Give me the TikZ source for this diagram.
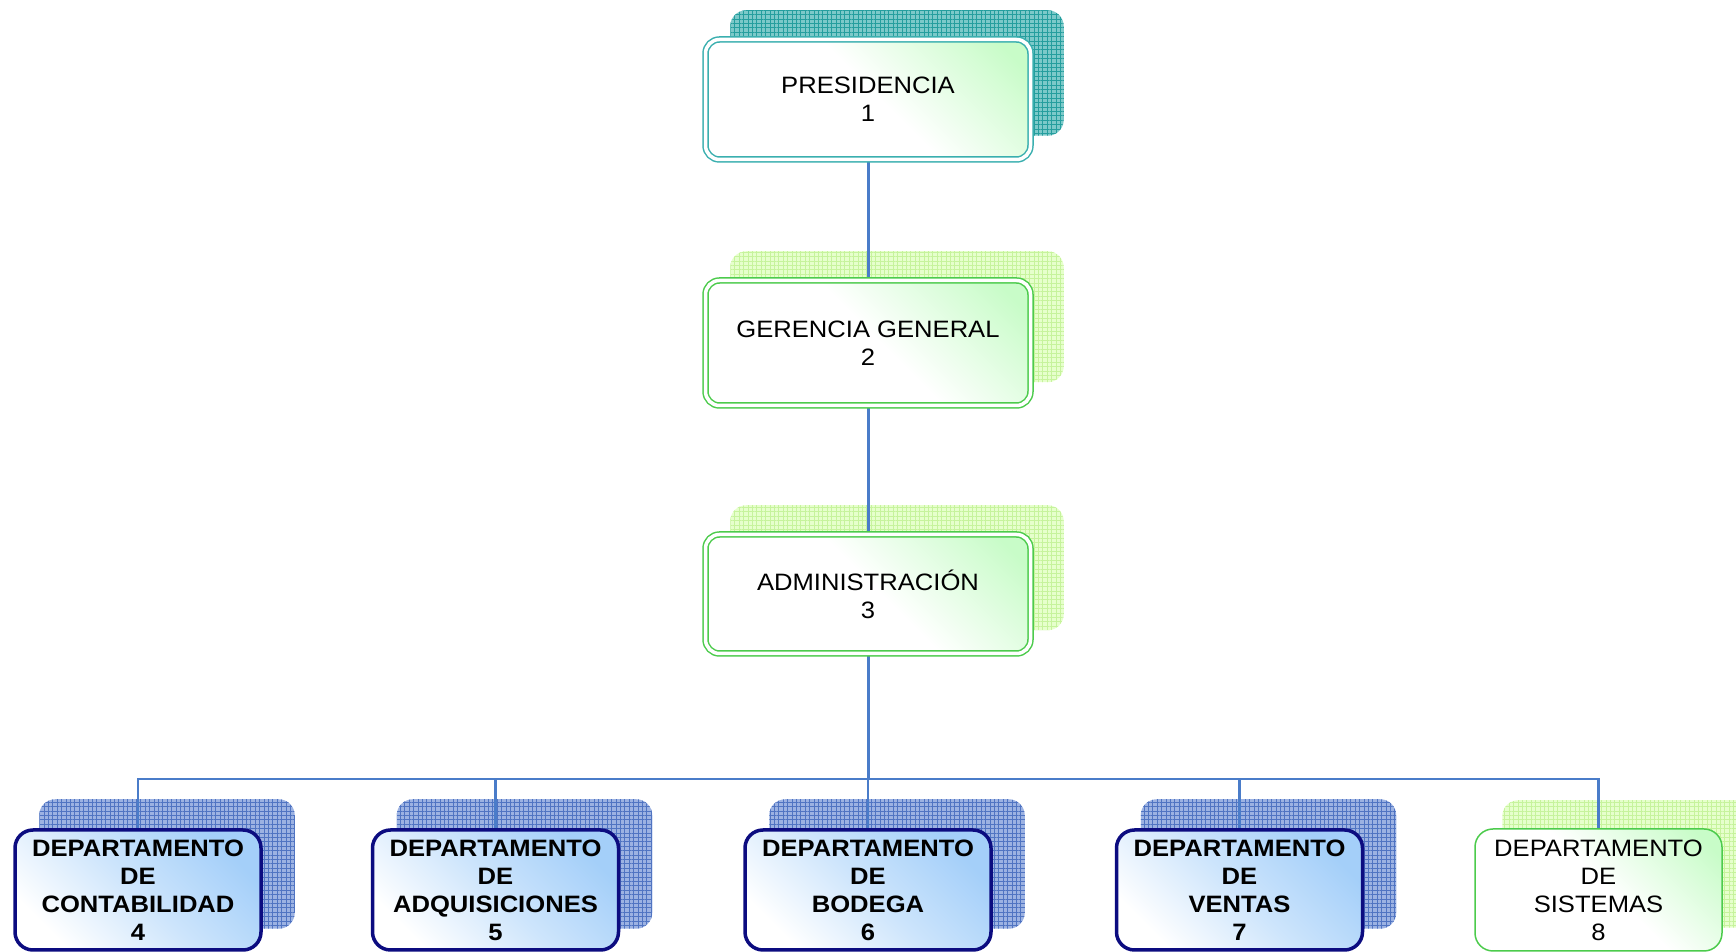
\documentclass[tikz,border=0pt]{standalone}
\usepackage{fontspec}
\setmainfont{Liberation Sans}[FakeStretch=1.08]
\usetikzlibrary{patterns.meta}

\definecolor{linkblue}{HTML}{4A7CC9}
\definecolor{tealline}{HTML}{3AAFAF}
\definecolor{tealbase}{HTML}{7CC9C9}
\definecolor{tealgrid}{HTML}{259E9E}
\definecolor{greenline}{HTML}{4CCB4C}
\definecolor{limebase}{HTML}{E6FFCC}
\definecolor{limegrid}{HTML}{C6F39C}
\definecolor{bluebase}{HTML}{9CB2E2}
\definecolor{bluegrid}{HTML}{5074C2}
\definecolor{navyline}{HTML}{0C0C80}
\definecolor{mintfill}{HTML}{C8FCC8}
\definecolor{skyfill}{HTML}{A4CFF9}

% light corner glow: white over most of the box, mint toward one corner
\pgfdeclareverticalshading{mintglow}{100bp}{color(0bp)=(white); color(52bp)=(white);
  color(80bp)=(mintfill); color(100bp)=(mintfill)}

\pgfdeclarelayer{background}
\pgfsetlayers{background,main}

\tikzset{
  x=0.5pt, y=0.5pt,
  labelfont/.style={font=\fontsize{11.85}{14}\selectfont},
  mintshade/.style={shade, shading=mintglow, shading angle=-45},
  headbox/.style={draw=#1, double, line width=0.75pt, double distance=1.75pt,
    rounded corners=7pt, inner sep=0pt, minimum width=162.5pt, align=center,
    labelfont, mintshade},
  deptbox/.style={draw=navyline, line width=1.75pt, rounded corners=9pt,
    inner sep=0pt, minimum width=123pt, minimum height=60pt, align=center,
    font=\bfseries\fontsize{11.85}{14}\selectfont,
    top color=skyfill, bottom color=white, middle color=skyfill!55!white,
    shading angle=-45},
  sysbox/.style={draw=greenline, line width=0.75pt, rounded corners=9pt,
    inner sep=0pt, minimum width=123.5pt, minimum height=61pt, align=center,
    labelfont, mintshade},
  gridshadow/.style 2 args={rounded corners=8pt, preaction={fill=#1},
    pattern={Hatch[angle=0,distance=2.2pt,line width=0.5pt]}, pattern color=#2},
  link/.style={draw=linkblue, line width=1.3pt},
}

\begin{document}
\begin{tikzpicture}
  \useasboundingbox (0,0) rectangle (1736,952);

  % upper chain
  \node[headbox=tealline, minimum height=60pt] (pres) at (868,852.5) {PRESIDENCIA\\1};
  \node[headbox=greenline, minimum height=62.5pt] (ger) at (868,609) {GERENCIA GENERAL\\2};
  \node[headbox=greenline, minimum height=59.5pt] (adm) at (868,358) {ADMINISTRACIÓN\\3};

  % departments
  \node[deptbox] (d4) at (138,62) {DEPARTAMENTO\\DE\\CONTABILIDAD\\4};
  \node[deptbox] (d5) at (495.5,62) {DEPARTAMENTO\\DE\\ADQUISICIONES\\5};
  \node[deptbox] (d6) at (868,62) {DEPARTAMENTO\\DE\\BODEGA\\6};
  \node[deptbox] (d7) at (1239.5,62) {DEPARTAMENTO\\DE\\VENTAS\\7};
  \node[sysbox] (d8) at (1598.5,62) {DEPARTAMENTO\\DE\\SISTEMAS\\8};

  \begin{pgfonlayer}{background}
    \clip (0,0) rectangle (1736,952);
    % offset grid shadows behind the boxes
    \path[gridshadow={tealbase}{tealgrid}]
      ([shift={(25.5,24.5)}]pres.south west) rectangle ([shift={(32.5,28.5)}]pres.north east);
    \foreach \b in {ger,adm}
      \path[gridshadow={limebase}{limegrid}]
        ([shift={(25.5,24)}]\b.south west) rectangle ([shift={(32.5,28.5)}]\b.north east);
    \foreach \b in {d4,d5,d6,d7}
      \path[gridshadow={bluebase}{bluegrid}]
        ([shift={(26,23)}]\b.south west) rectangle ([shift={(32,29)}]\b.north east);
    \path[gridshadow={limebase}{limegrid}]
      ([shift={(28,24)}]d8.south west) rectangle ([shift={(34,28)}]d8.north east);

    % connectors
    \coordinate (bus) at (868,173);
    \draw[link, line width=1.5pt] (pres.south) -- (ger.north);
    \draw[link, line width=1.5pt] (ger.south) -- (adm.north);
    \draw[link, line width=1.5pt] (adm.south) -- (bus);
    \foreach \d in {d4,d5,d6,d7,d8}
      \draw[link] (bus) -| (\d.north);
  \end{pgfonlayer}
\end{tikzpicture}
\end{document}
